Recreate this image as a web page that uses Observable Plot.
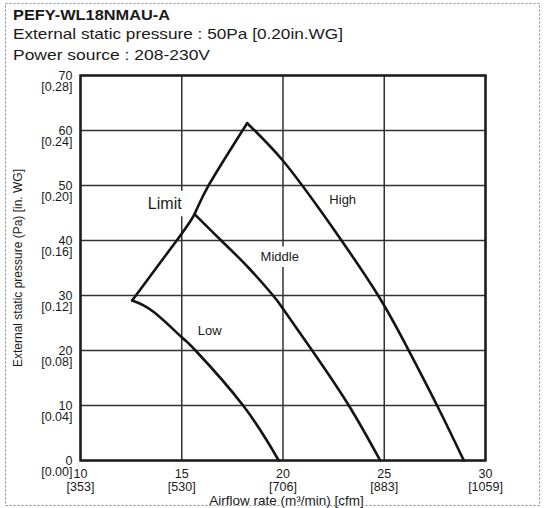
<!DOCTYPE html>
<html>
<head>
<meta charset="utf-8">
<script src="https://cdn.jsdelivr.net/npm/d3@7"></script>
<script src="https://cdn.jsdelivr.net/npm/@observablehq/plot@0.6"></script>
<style>
  html, body { margin: 0; padding: 0; background: #fff; }
  body { width: 544px; height: 508px; overflow: hidden; position: relative;
         font-family: "Liberation Sans", Arial, sans-serif; color: #1a1a1a; }
  #border { position: absolute; left: 0; top: 0; pointer-events: none; }
  #head { position: relative; height: 64px; }
  .hl { position: absolute; left: 13px; white-space: nowrap; line-height: 1; transform-origin: 0 0; }
  #t1 { font-weight: bold; font-size: 14px; top: 8.2px; }
  #t2 { font-size: 14.5px; top: 27px; }
  #t3 { font-size: 14.5px; top: 47.7px; }
  #chart svg { display: block; }
</style>
</head>
<body>
<div id="head">
  <div class="hl" id="t1">PEFY-WL18NMAU-A</div>
  <div class="hl" id="t2">External static pressure : 50Pa [0.20in.WG]</div>
  <div class="hl" id="t3">Power source : 208-230V</div>
</div>
<div id="chart"></div>
<svg id="border" width="544" height="508">
  <rect x="5.5" y="3.5" width="534" height="502" fill="none" stroke="#8a8a8a" stroke-width="1" stroke-dasharray="2,2"></rect>
</svg>
<script>
// ---- data ----
const xTicks = [10, 15, 20, 25, 30];
const xTicksCfm = ["[353]", "[530]", "[706]", "[883]", "[1059]"];
const yTicks = [0, 10, 20, 30, 40, 50, 60, 70];
const yTicksInWG = ["[0.00]", "[0.04]", "[0.08]", "[0.12]", "[0.16]", "[0.20]", "[0.24]", "[0.28]"];

const lowFlow      = [12.55, 13.62, 15.0, 15.68, 18.03, 19.79];
const lowPressure  = [29.1, 27.0, 22.4, 20.0, 10.0, 0];

const middleFlow     = [15.63, 16.95, 18.31, 19.51, 20.0, 21.44, 23.25, 24.8];
const middlePressure = [44.8, 40.0, 35.0, 30.0, 27.6, 20.0, 10.0, 0];

const highFlow     = [18.23, 20.0, 21.85, 22.89, 24.70, 26.21, 27.61, 28.93];
const highPressure = [61.33, 54.5, 45.45, 40.0, 30.0, 20.0, 10.0, 0];

const limitFlow     = [12.55, 14.77, 15.63, 16.34, 18.23];
const limitPressure = [29.1, 40.1, 44.8, 50.1, 61.33];

const labelNames    = ["High", "Middle", "Low"];
const labelFlow     = [22.95, 19.84, 16.38];
const labelPressure = [47.45, 37.0, 23.5];

const limitLabel = "Limit";
const limitLabelFlow = 14.16;
const limitLabelPressure = 46.6;

const xTitle = "Airflow rate (m³/min) [cfm]";
const yTitle = "External static pressure (Pa) [in. WG]";

// ---- build ----
const rows = (xs, ys) => xs.map((x, i) => ({x, y: ys[i]}));
const curveStyle = {x: "x", y: "y", stroke: "#141414", strokeWidth: 2.6, curve: "natural", strokeLinejoin: "miter"};
const labelRows = labelNames.map((t, i) => ({t, x: labelFlow[i], y: labelPressure[i]}));

const plot = Plot.plot({
  width: 544,
  height: 444,
  marginLeft: 80,
  marginRight: 59,
  marginTop: 11,
  marginBottom: 48,
  style: {fontFamily: "'Liberation Sans', Arial, sans-serif", fontSize: "12.5px", color: "#1a1a1a", background: "white", overflow: "visible"},
  x: {domain: [10, 30]},
  y: {domain: [0, 70]},
  marks: [
    Plot.gridX(xTicks, {stroke: "#333", strokeOpacity: 1, strokeWidth: 1.5}),
    Plot.gridY(yTicks, {stroke: "#333", strokeOpacity: 1, strokeWidth: 1.5}),
    Plot.axisX(xTicks, {tickSize: 0, tickPadding: 8.6, tickFormat: d => String(d), label: null}),
    Plot.axisX(xTicks, {tickSize: 0, tickPadding: 8.6, dy: 13, tickFormat: d => xTicksCfm[xTicks.indexOf(d)], label: null}),
    Plot.axisY(yTicks, {tickSize: 0, tickPadding: 8, tickFormat: d => String(d), label: null}),
    Plot.axisY(yTicks, {tickSize: 0, tickPadding: 8, dy: 11.5, tickFormat: d => yTicksInWG[yTicks.indexOf(d)], label: null}),
    Plot.text([yTitle], {text: d => d, frameAnchor: "left", textAnchor: "middle", lineAnchor: "middle", rotate: -90, dx: -62, fontSize: 12}),
    Plot.text([xTitle], {text: d => d, frameAnchor: "bottom", textAnchor: "middle", lineAnchor: "middle", dx: 3.5, dy: 40, fontSize: 13.5}),
    Plot.text(labelRows, {x: "x", y: "y", text: "t", fontSize: 13, fill: "#1a1a1a", stroke: "white", strokeWidth: 12, paintOrder: "stroke"}),
    Plot.text([limitLabel], {x: () => limitLabelFlow, y: () => limitLabelPressure, text: d => d, fontSize: 16, fill: "#1a1a1a", stroke: "white", strokeWidth: 15, paintOrder: "stroke"}),
    Plot.line(rows(lowFlow, lowPressure), curveStyle),
    Plot.line(rows(middleFlow, middlePressure), curveStyle),
    Plot.line(rows(highFlow, highPressure), curveStyle),
    Plot.line(rows(limitFlow, limitPressure), curveStyle),
    Plot.frame({stroke: "#1e1e1e", strokeWidth: 2.5})
  ]
});
document.getElementById("chart").appendChild(plot);

// stretch header lines to the reference widths
for (const [id, w] of [["t1", 157], ["t2", 330], ["t3", 197]]) {
  const el = document.getElementById(id);
  const r = el.getBoundingClientRect().width;
  el.style.transform = `scaleX(${w / r})`;
}
</script>
</body>
</html>
